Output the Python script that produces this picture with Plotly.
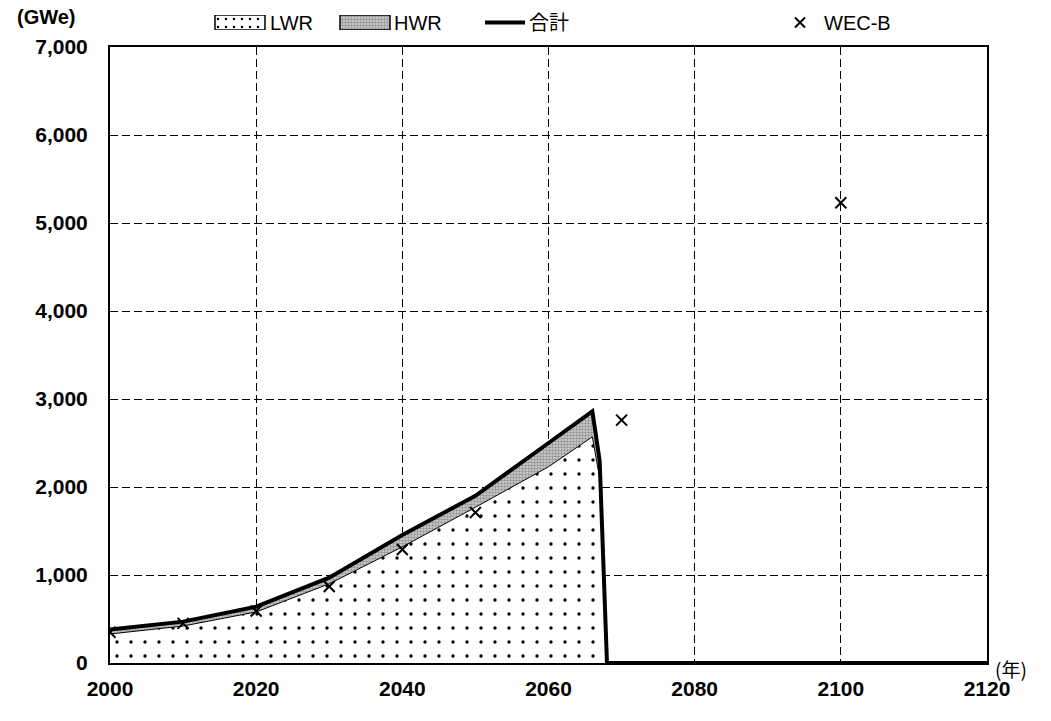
import plotly.graph_objects as go

years = [2000, 2010, 2020, 2030, 2040, 2050, 2060, 2066, 2067, 2068, 2080, 2100, 2120]
LWR = [330, 420, 580, 900, 1320, 1770, 2230, 2570, 2100, 0, 0, 0, 0]
HWR = [50, 50, 60, 70, 135, 130, 270, 290, 200, 0, 0, 0, 0]
total = [a + b for a, b in zip(LWR, HWR)]

wec_years = [2000, 2010, 2020, 2030, 2040, 2050, 2070, 2100]
wec_vals = [350, 450, 590, 870, 1290, 1710, 2760, 5230]

x_ticks = [2000, 2020, 2040, 2060, 2080, 2100, 2120]
y_ticks = [0, 1000, 2000, 3000, 4000, 5000, 6000, 7000]

FONT = "Liberation Sans, Arial, Noto Sans CJK JP"
CJK = "Noto Sans CJK JP"

W, H = 1051, 721
ML, MR, MT, MB = 110, 64, 0, 58
PW, PH = W - ML - MR, H - MT - MB
PLOT_TOP = 47


def py(p):
    return (H - MB - p) / PH


def px(p):
    return (p - ML) / PW


LWR_PAT = dict(shape=".", fgcolor="black", bgcolor="white", size=14, solidity=0.045, fgopacity=1)
HWR_PAT = dict(shape=".", fgcolor="#505050", bgcolor="#d4d4d4", size=3, solidity=0.5)

fig = go.Figure()
fig.add_trace(go.Scatter(
    x=years, y=LWR, name="LWR", mode="lines", stackgroup="s",
    line=dict(color="black", width=1), fillcolor="white", fillpattern=LWR_PAT,
    showlegend=False,
))
fig.add_trace(go.Scatter(
    x=years, y=HWR, name="HWR", mode="lines", stackgroup="s",
    line=dict(color="black", width=1), fillcolor="#b0b0b0", fillpattern=HWR_PAT,
    showlegend=False,
))
fig.add_trace(go.Scatter(
    x=years, y=total, name="合計", mode="lines",
    line=dict(color="black", width=4), showlegend=False,
))
fig.add_trace(go.Scatter(
    x=wec_years, y=wec_vals, name="WEC-B", mode="markers",
    marker=dict(symbol="x-thin-open", size=11, color="black", line=dict(color="black", width=2)),
    showlegend=False,
))

# ---- legend row drawn in an inset axis (pixel units) ----
leg_y = [0.5]
fig.add_trace(go.Bar(x=[50], base=[215], y=leg_y, orientation="h", width=1,
                     marker=dict(color="white", pattern=dict(shape=".", fgcolor="black", bgcolor="white",
                                                             size=8, solidity=0.08, fgopacity=1),
                                 line=dict(color="black", width=1.5)),
                     xaxis="x2", yaxis="y2", showlegend=False, hoverinfo="skip"))
fig.add_trace(go.Bar(x=[50], base=[340], y=leg_y, orientation="h", width=1,
                     marker=dict(color="#b0b0b0", pattern=HWR_PAT, line=dict(color="black", width=1.5)),
                     xaxis="x2", yaxis="y2", showlegend=False, hoverinfo="skip"))
fig.add_trace(go.Scatter(x=[485, 525], y=[0.5, 0.5], mode="lines", line=dict(color="black", width=4),
                         xaxis="x2", yaxis="y2", showlegend=False, hoverinfo="skip"))
fig.add_trace(go.Scatter(x=[800], y=[0.5], mode="markers",
                         marker=dict(symbol="x-thin-open", size=10, color="black",
                                     line=dict(color="black", width=2)),
                         xaxis="x2", yaxis="y2", showlegend=False, hoverinfo="skip"))

leg_font = dict(family=FONT, size=20, color="black")
leg_texts = [(268, "LWR"), (392, "HWR"), (527, "合計"), (822, "WEC-B")]
annotations = [dict(text=t, xref="x2", yref="y2", x=xp, y=0.5, xanchor="left", yanchor="middle",
                    showarrow=False, font=leg_font) for xp, t in leg_texts]
annotations += [
    dict(text="(GWe)", xref="paper", yref="paper", x=px(47), y=py(17),
         xanchor="center", yanchor="middle", showarrow=False,
         font=dict(family=FONT, size=20, color="black", weight="bold")),
    dict(text="(年)", xref="paper", yref="paper", x=px(993), y=py(668),
         xanchor="left", yanchor="middle", showarrow=False,
         font=dict(family=CJK, size=19, color="black")),
]

axis_common = dict(showgrid=True, gridcolor="black", griddash="8px,4px", gridwidth=1,
                   showline=True, linecolor="black", linewidth=2, mirror=True, ticks="",
                   zeroline=False)
fig.update_layout(
    width=W, height=H,
    margin=dict(l=ML, r=MR, t=MT, b=MB, autoexpand=False),
    paper_bgcolor="white", plot_bgcolor="white",
    font=dict(family=FONT, size=21, color="black"),
    showlegend=False,
    barmode="overlay",
    xaxis=dict(range=[2000, 2120], tickvals=x_ticks, ticktext=[str(v) for v in x_ticks],
               ticklabelstandoff=6, domain=[0, 1], anchor="y",
               tickfont=dict(family=FONT, size=21, color="black", weight="bold"), **axis_common),
    yaxis=dict(range=[0, 7000], tickvals=y_ticks, tickformat=",d", ticklabelstandoff=16,
               domain=[0, py(PLOT_TOP)], anchor="x",
               tickfont=dict(family=FONT, size=21, color="black", weight="bold"), **axis_common),
    xaxis2=dict(range=[ML, W - MR], domain=[0, 1], anchor="y2", visible=False, fixedrange=True),
    yaxis2=dict(range=[0, 1], domain=[py(30), py(15)], anchor="x2", visible=False, fixedrange=True),
    annotations=annotations,
)
fig.write_html("out.html")
